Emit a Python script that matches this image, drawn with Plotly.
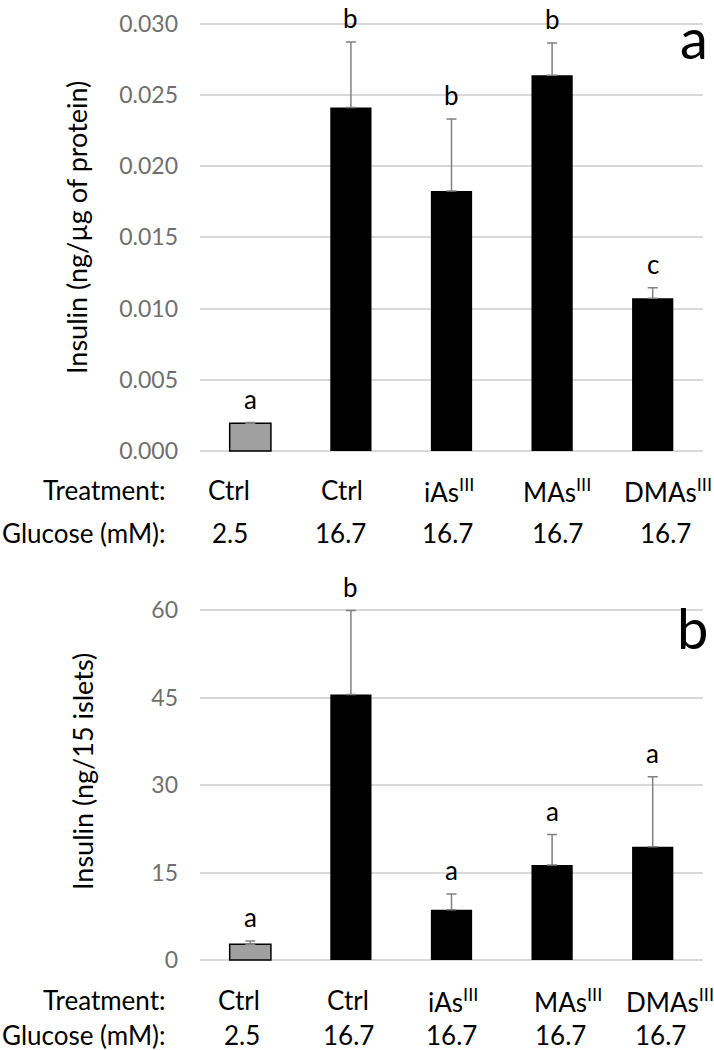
import plotly.graph_objects as go

# data
treatments = ["Ctrl", "Ctrl", "iAs<sup>III</sup>", "MAs<sup>III</sup>", "DMAs<sup>III</sup>"]
glucose = ["2.5", "16.7", "16.7", "16.7", "16.7"]

insulin_protein = [0.00195, 0.0241, 0.01825, 0.02636, 0.01072]
insulin_protein_err = [0.00005, 0.0046, 0.00505, 0.00227, 0.00073]
letters_a = ["a", "b", "b", "b", "c"]

insulin_islets = [2.7, 45.5, 8.6, 16.3, 19.4]
insulin_islets_err = [0.55, 14.4, 2.7, 5.2, 12.0]
letters_b = ["a", "b", "a", "a", "a"]

W, H = 714, 1050
FONT = "Lato"
bar_colors = ["#a0a0a0", "black", "black", "black", "black"]
bar_lines = [1.5, 0, 0, 0, 0]


def ydomain(px_zero, px_top, top_val, lo, hi):
    # map a value range onto pixel anchors of the original figure
    scale = (px_zero - px_top) / top_val
    bottom = px_zero + (0 - lo) * scale
    top = px_zero - hi * scale
    return [1 - bottom / H, 1 - top / H]


fig = go.Figure()

panels = [
    dict(vals=insulin_protein, err=insulin_protein_err, letters=letters_a,
         xa="x", ya="y", rng=[-0.0004, 0.0304], anchors=(451, 23.5, 0.030),
         tickvals=[0, 0.005, 0.010, 0.015, 0.020, 0.025, 0.030], fmt=".3f",
         title="Insulin (ng/µg of protein)", title_xy=(77, 228),
         label="a", label_xy=(710, 37),
         rows=(490, 533), tcols=[229, 342, 449, 557, 668], gcols=[230, 340, 447, 557, 665]),
    dict(vals=insulin_islets, err=insulin_islets_err, letters=letters_b,
         xa="x2", ya="y2", rng=[-0.8, 60.8], anchors=(960, 610, 60),
         tickvals=[0, 15, 30, 45, 60], fmt="d",
         title="Insulin (ng/15 islets)", title_xy=(82, 772),
         label="b", label_xy=(710, 627),
         rows=(1000, 1035), tcols=[239, 348, 453, 568, 670], gcols=[242, 348, 451, 560, 660]),
]

xdom = [200 / W, 703 / W]
annotations = []
layout_axes = {}


def txt(x, y, text, size, **kw):
    d = dict(x=x / W, y=1 - y / H, xref="paper", yref="paper", text=text,
             showarrow=False, xanchor="center", yanchor="middle",
             font=dict(family=FONT, size=size, color="black"))
    d.update(kw)
    return d


for n, p in enumerate(panels):
    suffix = "" if n == 0 else str(n + 1)
    fig.add_trace(go.Bar(
        x=list(range(5)), y=p["vals"], xaxis=p["xa"], yaxis=p["ya"],
        marker=dict(color=bar_colors, line=dict(color="black", width=bar_lines)),
        error_y=dict(type="data", symmetric=False, array=p["err"],
                     arrayminus=[0] * 5, color="#808080", thickness=1.5, width=5),
        showlegend=False,
    ))
    layout_axes["xaxis" + suffix] = dict(
        domain=xdom, range=[-0.5, 4.5], showticklabels=False, showgrid=False,
        zeroline=False, anchor=p["ya"], fixedrange=True, automargin=False)
    layout_axes["yaxis" + suffix] = dict(
        domain=ydomain(p["anchors"][0], p["anchors"][1], p["anchors"][2], *p["rng"]),
        range=p["rng"], tickvals=p["tickvals"], tickformat=p["fmt"],
        showgrid=True, gridcolor="#d9d9d9", gridwidth=1.5, zeroline=False,
        ticks="", ticklabelstandoff=21, anchor=p["xa"], automargin=False,
        tickfont=dict(family=FONT, size=23, color="#6f6f6f"))

    # significance letters
    for i, (v, e, t) in enumerate(zip(p["vals"], p["err"], p["letters"])):
        annotations.append(dict(x=i, y=v + e, xref=p["xa"], yref=p["ya"], text=t,
                                showarrow=False, yshift=24, xanchor="center",
                                yanchor="middle",
                                font=dict(family=FONT, size=26, color="black")))

    # y-axis title and panel label
    annotations.append(txt(*p["title_xy"], p["title"], 27, textangle=-90))
    annotations.append(txt(*p["label_xy"], p["label"], 56, xanchor="right"))

    # category rows
    ty, gy = p["rows"]
    annotations.append(txt(168, ty, "Treatment:", 26, xanchor="right"))
    annotations.append(txt(168, gy, "Glucose (mM):", 26, xanchor="right"))
    for t, c in zip(treatments, p["tcols"]):
        annotations.append(txt(c, ty, t, 26))
    for g, c in zip(glucose, p["gcols"]):
        annotations.append(txt(c, gy, g, 26))

fig.update_layout(
    width=W, height=H,
    margin=dict(l=0, r=0, t=0, b=0, pad=0),
    paper_bgcolor="white", plot_bgcolor="white",
    bargap=0.59,
    annotations=annotations,
    **layout_axes,
)

# drop the browser's default 8px body margin so the figure fills the window
fig.write_html("out.html", config={"displayModeBar": False},
               post_script="document.body.style.margin='0';")
